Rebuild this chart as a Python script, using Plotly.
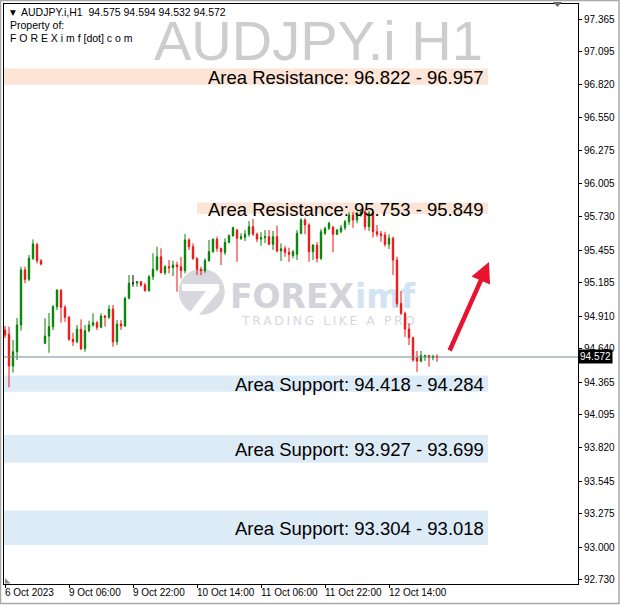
import plotly.graph_objects as go

# ---------------- data ----------------
opens = [94.795, 94.760, 94.497, 94.615, 94.836, 95.291, 95.214, 95.387, 95.500, 95.368,
         94.685, 94.745, 94.822, 94.987, 95.125, 94.982, 94.900, 94.718, 94.698, 94.801,
         94.640, 94.789, 94.836, 94.855, 94.817, 94.910, 94.900, 94.968, 94.698, 94.844,
         94.828, 95.057, 95.182, 95.183, 95.194, 95.167, 95.120, 95.235, 95.296, 95.400,
         95.268, 95.318, 95.310, 95.332, 95.318, 95.285, 95.539, 95.483, 95.387, 95.296,
         95.285, 95.368, 95.442, 95.544, 95.470, 95.435, 95.520, 95.574, 95.620, 95.553,
         95.560, 95.586, 95.649, 95.586, 95.547, 95.558, 95.566, 95.503, 95.566, 95.448,
         95.467, 95.437, 95.410, 95.420, 95.594, 95.704, 95.663, 95.442, 95.497, 95.387,
         95.594, 95.635, 95.645, 95.586, 95.610, 95.640, 95.690, 95.745, 95.704, 95.745,
         95.772, 95.649, 95.759, 95.607, 95.590, 95.580, 95.503, 95.553, 95.373, 95.015,
         94.933, 94.803, 94.731, 94.565, 94.538, 94.575, 94.583, 94.567, 94.575]
highs = [94.828, 94.822, 94.712, 94.894, 95.318, 95.318, 95.415, 95.544, 95.516, 95.380,
         94.892, 94.935, 95.001, 95.130, 95.130, 95.001, 94.910, 94.772, 94.836, 94.883,
         94.836, 94.872, 94.933, 94.870, 94.933, 94.919, 95.001, 95.001, 94.877, 94.877,
         95.070, 95.249, 95.249, 95.200, 95.200, 95.185, 95.249, 95.429, 95.483, 95.470,
         95.332, 95.373, 95.368, 95.359, 95.400, 95.588, 95.553, 95.511, 95.395, 95.318,
         95.387, 95.539, 95.553, 95.566, 95.475, 95.553, 95.586, 95.649, 95.630, 95.594,
         95.621, 95.696, 95.712, 95.600, 95.603, 95.621, 95.621, 95.613, 95.657, 95.511,
         95.489, 95.475, 95.456, 95.621, 95.718, 95.718, 95.677, 95.503, 95.520, 95.629,
         95.649, 95.690, 95.655, 95.629, 95.663, 95.704, 95.768, 95.772, 95.772, 95.786,
         95.786, 95.778, 95.765, 95.663, 95.613, 95.607, 95.586, 95.566, 95.400, 95.117,
         94.946, 94.850, 94.740, 94.621, 94.621, 94.590, 94.590, 94.590, 94.594]
lows = [94.729, 94.321, 94.442, 94.547, 94.789, 95.181, 95.200, 95.373, 95.346, 95.329,
        94.679, 94.607, 94.795, 94.960, 94.855, 94.863, 94.706, 94.663, 94.685, 94.629,
        94.615, 94.775, 94.822, 94.795, 94.809, 94.822, 94.885, 94.657, 94.671, 94.795,
        94.822, 95.049, 95.153, 95.153, 95.153, 95.111, 95.111, 95.208, 95.280, 95.263,
        95.249, 95.263, 95.241, 95.111, 95.222, 95.263, 95.456, 95.373, 95.249, 95.249,
        95.268, 95.359, 95.434, 95.442, 95.332, 95.415, 95.511, 95.566, 95.359, 95.539,
        95.530, 95.566, 95.574, 95.520, 95.491, 95.514, 95.497, 95.456, 95.437, 95.365,
        95.400, 95.359, 95.387, 95.373, 95.586, 95.586, 95.359, 95.373, 95.354, 95.373,
        95.580, 95.620, 95.437, 95.580, 95.594, 95.621, 95.663, 95.640, 95.677, 95.731,
        95.621, 95.613, 95.558, 95.566, 95.524, 95.483, 95.464, 95.249, 94.987, 94.919,
        94.739, 94.671, 94.533, 94.450, 94.527, 94.540, 94.492, 94.545, 94.532]
closes = [94.753, 94.497, 94.615, 94.836, 95.291, 95.214, 95.387, 95.506, 95.368, 95.340,
          94.745, 94.822, 94.987, 95.125, 94.982, 94.900, 94.718, 94.698, 94.801, 94.640,
          94.789, 94.836, 94.855, 94.817, 94.910, 94.900, 94.968, 94.698, 94.844, 94.828,
          95.057, 95.181, 95.182, 95.194, 95.167, 95.120, 95.235, 95.296, 95.400, 95.268,
          95.318, 95.310, 95.332, 95.318, 95.285, 95.539, 95.483, 95.387, 95.296, 95.285,
          95.368, 95.442, 95.544, 95.470, 95.442, 95.520, 95.574, 95.640, 95.553, 95.566,
          95.586, 95.649, 95.586, 95.547, 95.558, 95.566, 95.503, 95.566, 95.448, 95.467,
          95.437, 95.420, 95.442, 95.594, 95.704, 95.663, 95.442, 95.497, 95.387, 95.607,
          95.635, 95.677, 95.586, 95.621, 95.640, 95.690, 95.745, 95.704, 95.759, 95.772,
          95.649, 95.759, 95.607, 95.586, 95.575, 95.503, 95.553, 95.373, 95.015, 94.933,
          94.803, 94.731, 94.547, 94.538, 94.582, 94.583, 94.567, 94.575, 94.572]

tick_idx = [0, 16, 32, 48, 64, 80, 96]
tick_text = ["6 Oct 2023", "9 Oct 06:00", "9 Oct 22:00", "10 Oct 14:00",
             "11 Oct 06:00", "11 Oct 22:00", "12 Oct 14:00"]

price_ticks = [97.365, 97.095, 96.820, 96.550, 96.275, 96.005, 95.730, 95.455, 95.185,
               94.910, 94.640, 94.365, 94.095, 93.820, 93.545, 93.275, 93.000, 92.730]

zone_text = ["Area Resistance: 96.822 - 96.957", "Area Resistance: 95.753 - 95.849",
             "Area Support: 94.418 - 94.284", "Area Support: 93.927 - 93.699",
             "Area Support: 93.304 - 93.018"]
zone_low = [96.822, 95.753, 94.284, 93.699, 93.018]
zone_high = [96.957, 95.849, 94.418, 93.927, 93.304]
zone_kind = ["res", "res", "sup", "sup", "sup"]
zone_start = [-0.25, 48, -0.25, -0.25, -0.25]
zone_end = 120.75
zone_label_x = 120.25

arrow_from = (111, 94.613)
arrow_to = (121, 95.357)

header = "AUDJPY.i,H1  94.575 94.594 94.532 94.572"

# ---------------- layout helpers ----------------
W, H = 620, 606
L, R, T, B = 4, 578, 4, 584


def px(x):
    return (x - L) / (R - L)


def py(y):
    return (B - y) / (B - T)


GREEN = "#008000"
RED = "#EE1111"

n = len(opens)
idx = list(range(n))
bull = [i for i in idx if closes[i] > opens[i]]
bear = [i for i in idx if closes[i] < opens[i]]
doji = [i for i in idx if closes[i] == opens[i]]


def ctrace(sel, col):
    return go.Candlestick(
        x=sel, open=[opens[i] for i in sel], high=[highs[i] for i in sel],
        low=[lows[i] for i in sel], close=[closes[i] for i in sel],
        increasing=dict(line=dict(color=col, width=1), fillcolor=col),
        decreasing=dict(line=dict(color=col, width=1), fillcolor=col),
        whiskerwidth=0, hoverinfo="skip", showlegend=False)


fig = go.Figure()
fig.add_trace(ctrace(bull, GREEN))
fig.add_trace(ctrace(bear, RED))
if doji:
    fig.add_trace(ctrace(doji, "#000000"))

shapes = []
annotations = []

# zones
for t, lo, hi, k, x0 in zip(zone_text, zone_low, zone_high, zone_kind, zone_start):
    col = "#FCE4D6" if k == "res" else "#DDEBF7"
    shapes.append(dict(type="rect", xref="x", yref="y", x0=x0, x1=zone_end, y0=lo, y1=hi,
                       fillcolor=col, line=dict(width=0), layer="below"))
    annotations.append(dict(xref="x", yref="y", x=zone_label_x, y=(lo + hi) / 2,
                            xanchor="right", yanchor="middle", yshift=-1, text=t, showarrow=False,
                            font=dict(family="Liberation Sans, Arial", size=18.5, color="#000000")))

# logo watermark (below candles)
LOGO_GREY = "#D7D7DD"
shapes.append(dict(type="circle", xref="paper", yref="paper",
                   x0=px(178.7), x1=px(224.7), y0=py(314.7), y1=py(268.7),
                   fillcolor=LOGO_GREY, line=dict(width=0), layer="below"))
pts = [(182, 284), (219, 284), (219, 291), (198, 316), (187, 316), (206, 291), (182, 291)]
path = "M " + " L ".join(f"{px(a):.5f},{py(b):.5f}" for a, b in pts) + " Z"
shapes.append(dict(type="path", xref="paper", yref="paper", path=path,
                   fillcolor="#FFFFFF", line=dict(width=0), layer="below"))
shapes.append(dict(type="rect", xref="paper", yref="paper", x0=px(224), x1=px(352),
                   y0=py(308), y1=py(281), line=dict(width=0), fillcolor="rgba(0,0,0,0)",
                   layer="below",
                   label=dict(text="FOREX", textposition="middle left",
                              font=dict(family="DejaVu Sans", size=33, color="#D3D3DA",
                                        weight="bold"))))
shapes.append(dict(type="rect", xref="paper", yref="paper", x0=px(349), x1=px(420),
                   y0=py(308), y1=py(281), line=dict(width=0), fillcolor="rgba(0,0,0,0)",
                   layer="below",
                   label=dict(text="imf", textposition="middle left",
                              font=dict(family="DejaVu Sans", size=33, color="#D2E4F3",
                                        weight="bold"))))
shapes.append(dict(type="rect", xref="paper", yref="paper", x0=px(236), x1=px(420),
                   y0=py(326), y1=py(313), line=dict(width=0), fillcolor="rgba(0,0,0,0)",
                   layer="below",
                   label=dict(text="\u2009".join("TRADING LIKE A PRO"), textposition="middle left",
                              font=dict(family="DejaVu Sans", size=12.5, color="#D8D8DE"))))

# bid line
shapes.append(dict(type="line", xref="paper", yref="y", x0=0, x1=1, y0=closes[-1], y1=closes[-1],
                   line=dict(color="#778899", width=1), layer="above"))

# window decorations
shapes.append(dict(type="rect", xref="paper", yref="paper", x0=px(0.5), x1=px(619), y0=py(603.5),
                   y1=py(0.5), line=dict(color="#A8A8A8", width=1.5), fillcolor="rgba(0,0,0,0)"))
tri_top = [(553, 2), (562, 2), (557.5, 7)]
shapes.append(dict(type="path", xref="paper", yref="paper",
                   path="M " + " L ".join(f"{px(a):.5f},{py(b):.5f}" for a, b in tri_top) + " Z",
                   fillcolor="#6E6E6E", line=dict(width=0)))
tri_bot = [(5, 578), (5, 583.5), (10.5, 583.5)]
shapes.append(dict(type="path", xref="paper", yref="paper",
                   path="M " + " L ".join(f"{px(a):.5f},{py(b):.5f}" for a, b in tri_bot) + " Z",
                   fillcolor="#8A8A8A", line=dict(width=0)))

# big symbol watermark
annotations.append(dict(xref="paper", yref="paper", x=px(485), y=py(40), xanchor="right",
                        yanchor="middle", text="AUDJPY.i H1", showarrow=False,
                        font=dict(family="Liberation Sans, Arial", size=56, color="#CDCDCD")))

# header text
HF = dict(family="Liberation Sans, Arial", size=10.5, color="#000000")
annotations.append(dict(xref="paper", yref="paper", x=px(8), y=py(12), xanchor="left",
                        yanchor="middle", text="\u25BC", showarrow=False,
                        font=dict(family="DejaVu Sans", size=7.5, color="#000000")))
annotations.append(dict(xref="paper", yref="paper", x=px(19), y=py(12), xanchor="left",
                        yanchor="middle", text=header, showarrow=False, font=HF))
annotations.append(dict(xref="paper", yref="paper", x=px(8), y=py(25), xanchor="left",
                        yanchor="middle", text="Property of:", showarrow=False, font=HF))
annotations.append(dict(xref="paper", yref="paper", x=px(8), y=py(37.5), xanchor="left",
                        yanchor="middle", text="F O R E X i m f [dot] c o m", showarrow=False,
                        font=HF))

# time labels
for ti, tt in zip(tick_idx, tick_text):
    annotations.append(dict(xref="x", yref="paper", x=ti, y=0, xanchor="left", yanchor="top",
                            xshift=-2, yshift=-1, text=tt, showarrow=False,
                            font=dict(family="Liberation Sans, Arial", size=10, color="#000000")))

# current price label
annotations.append(dict(xref="paper", yref="y", x=1, y=closes[-1], xanchor="left",
                        yanchor="middle", xshift=0, text=f"{closes[-1]:.3f}", showarrow=False,
                        bgcolor="#000000", borderpad=1,
                        font=dict(family="Liberation Sans, Arial", size=10, color="#FFFFFF")))

# red arrow
annotations.append(dict(xref="x", yref="y", axref="x", ayref="y",
                        x=arrow_to[0], y=arrow_to[1], ax=arrow_from[0], ay=arrow_from[1],
                        text="", showarrow=True, arrowhead=2, arrowsize=0.9, arrowwidth=4.5,
                        arrowcolor="#E8132F", standoff=0, startstandoff=0))

fig.update_layout(
    width=W, height=H,
    margin=dict(l=L, r=W - R, t=T, b=H - B, pad=0),
    paper_bgcolor="#FFFFFF", plot_bgcolor="#FFFFFF",
    showlegend=False, boxgap=0.5, hovermode=False,
    shapes=shapes, annotations=annotations,
    xaxis=dict(range=[-0.25, 143.25], showgrid=False, zeroline=False,
               showline=True, mirror=True, linecolor="#000000", linewidth=1,
               tickvals=tick_idx, ticks="outside", ticklen=3, tickcolor="#000000",
               showticklabels=False, rangeslider=dict(visible=False), fixedrange=True),
    yaxis=dict(range=[92.696, 97.489], side="right", showgrid=False, zeroline=False,
               showline=True, mirror=True, linecolor="#000000", linewidth=1,
               tickvals=price_ticks, ticktext=[f"{v:.3f}" for v in price_ticks],
               ticks="outside", ticklen=3, tickcolor="#000000",
               tickfont=dict(family="Liberation Sans, Arial", size=10, color="#000000"),
               fixedrange=True),
)

fig.write_html("out.html", config={"displayModeBar": False},
               post_script="document.body.style.margin='0px';document.body.style.overflow='hidden';")
